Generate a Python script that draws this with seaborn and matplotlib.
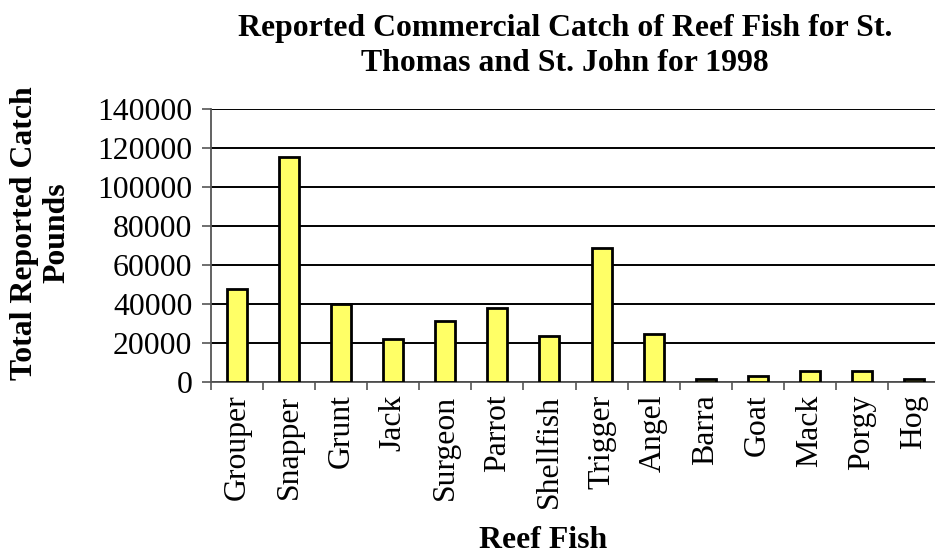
import matplotlib
matplotlib.use("Agg")
import matplotlib.pyplot as plt
import seaborn as sns
import pandas as pd
import numpy as np

# Reported commercial catch (pounds) by reef fish group, St. Thomas & St. John, 1998
fish = ["Grouper", "Snapper", "Grunt", "Jack", "Surgeon", "Parrot", "Shellfish",
        "Trigger", "Angel", "Barra", "Goat", "Mack", "Porgy", "Hog"]
pounds = [48000, 115500, 40300, 22200, 31500, 37800, 23400,
          69000, 24800, 1700, 2900, 5500, 5500, 1700]
y_ticks = [0, 20000, 40000, 60000, 80000, 100000, 120000, 140000]

df = pd.DataFrame({"fish": fish, "pounds": pounds})

sns.set_theme(style="white")
plt.rcParams["font.family"] = ["Liberation Serif", "DejaVu Serif"]
plt.rcParams["text.color"] = "black"
plt.rcParams["xtick.color"] = "black"
plt.rcParams["ytick.color"] = "black"

FS = 22.9
fig = plt.figure(figsize=(9.35, 5.57), dpi=100)
ax = fig.add_axes([211 / 935, 175 / 557, 729 / 935, 272.7 / 557])

sns.barplot(data=df, x="fish", y="pounds", color="#FFFF66", edgecolor="black",
            linewidth=2, width=0.385, saturation=1, ax=ax, zorder=3)

ax.set_ylim(0, 140000)
ax.set_xlim(-0.5, len(fish) - 0.5)
ax.set_yticks(y_ticks)
ax.set_yticklabels([str(v) for v in y_ticks], fontsize=FS, color="black")
ax.yaxis.grid(True, color="black", linewidth=1.4, zorder=0)
ax.xaxis.grid(False)
ax.set_axisbelow(True)

# category labels at centers, tick marks on category boundaries
ax.set_xticks(range(len(fish)))
ax.set_xticklabels(fish, rotation=90, fontsize=FS, color="black")
ax.set_xticks(np.arange(-0.5, len(fish), 1.0), minor=True)
ax.tick_params(axis="x", which="major", length=0, pad=9)
ax.tick_params(axis="x", which="minor", length=5.8, width=1.2, color="#555555",
               bottom=True, direction="out")
ax.tick_params(axis="y", which="major", length=6.5, width=1.2, color="#555555",
               left=True, direction="out", pad=7)

for side in ["top", "right"]:
    ax.spines[side].set_visible(False)
for side in ["left", "bottom"]:
    ax.spines[side].set_color("#555555")
    ax.spines[side].set_linewidth(1.3)

ax.set_xlabel("")
ax.set_ylabel("")

fig.text(565 / 935, 1 - 46 / 557,
         "Reported Commercial Catch of Reef Fish for St.\nThomas and St. John for 1998",
         ha="center", va="center", fontsize=FS, fontweight="bold", linespacing=1.25,
         color="black")
fig.text(41 / 935, 1 - 233 / 557, "Total Reported Catch\nPounds",
         ha="center", va="center", rotation=90, fontsize=FS, fontweight="bold",
         linespacing=1.15, color="black")
fig.text(543 / 935, 1 - 541 / 557, "Reef Fish", ha="center", va="center",
         fontsize=FS, fontweight="bold", color="black")

fig.savefig("out.png", dpi=100)
